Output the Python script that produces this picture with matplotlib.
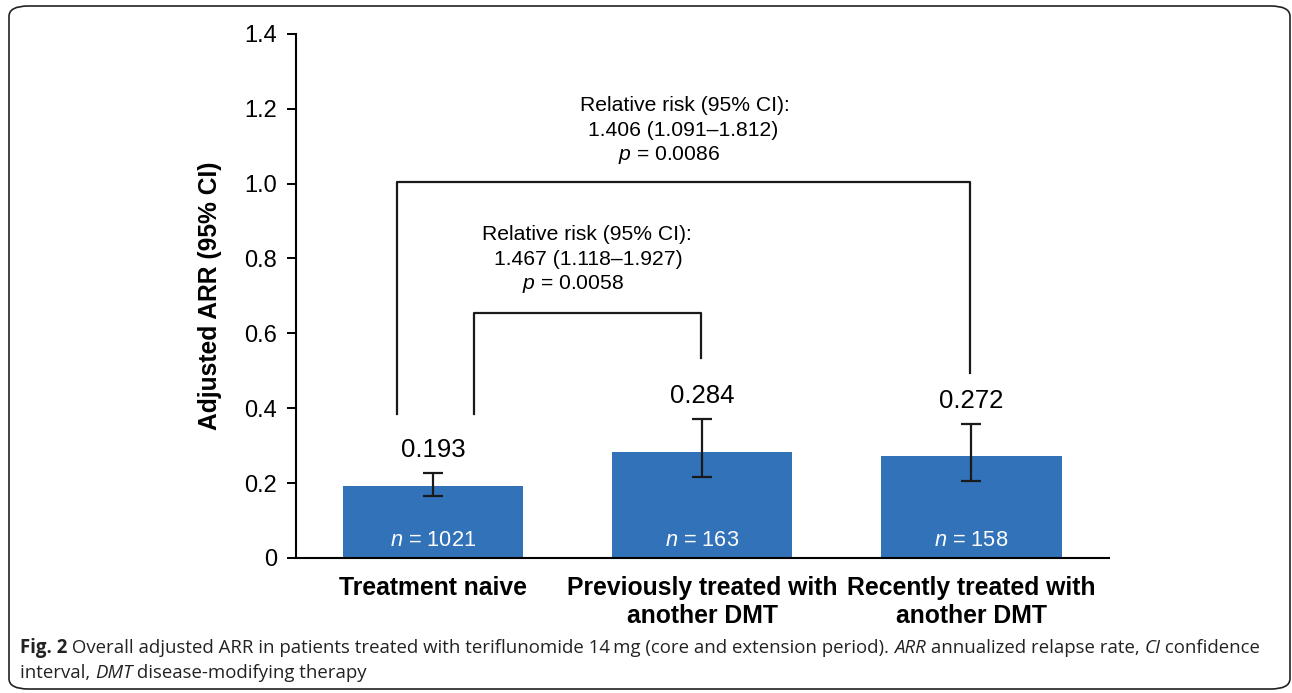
import matplotlib.pyplot as plt
from matplotlib.patches import FancyBboxPatch

plt.rcParams['font.family'] = ['Liberation Sans', 'DejaVu Sans']
plt.rcParams['mathtext.fontset'] = 'custom'
plt.rcParams['mathtext.rm'] = 'Liberation Sans'
plt.rcParams['mathtext.it'] = 'Liberation Sans:italic'
plt.rcParams['mathtext.bf'] = 'Liberation Sans:bold'

# data
groups = ['Treatment naive', 'Previously treated with\nanother DMT',
          'Recently treated with\nanother DMT']
arr = [0.193, 0.284, 0.272]
ci_low = [0.165, 0.216, 0.206]
ci_high = [0.227, 0.371, 0.358]
n_pat = [1021, 163, 158]
yticks = [0, 0.2, 0.4, 0.6, 0.8, 1.0, 1.2, 1.4]
ytick_labels = ['0', '0.2', '0.4', '0.6', '0.8', '1.0', '1.2', '1.4']

# comparison brackets: left x, right x, left foot, right foot, top
br_left = [-0.134, 0.152]
br_right = [1.996, 0.996]
br_foot_l = [0.385, 0.385]
br_foot_r = [0.494, 0.534]
br_top = [1.005, 0.655]
rr_text = [['Relative risk (95% CI):', '1.406 (1.091\u20131.812)', '$\\mathit{p}$ = 0.0086'],
           ['Relative risk (95% CI):', '1.467 (1.118\u20131.927)', '$\\mathit{p}$ = 0.0058']]
rr_x = [[0.937, 0.929, 0.877], [0.572, 0.576, 0.52]]
rr_y = [[1.210, 1.143, 1.077], [0.863, 0.796, 0.732]]

blue = '#3272b8'

fig = plt.figure(figsize=(12.92, 6.93), dpi=100)
ax = fig.add_axes([0.229, 0.195, 0.629, 0.756])

x = list(range(len(groups)))
err = [[a - l for a, l in zip(arr, ci_low)], [h - a for a, h in zip(arr, ci_high)]]
ax.bar(x, arr, width=0.67, color=blue, zorder=2)
ax.errorbar(x, arr, yerr=err, fmt='none', ecolor='#1a1a1a', elinewidth=1.6,
            capsize=7.5, capthick=1.6, zorder=3)

for i in x:
    ax.annotate('%.3f' % arr[i], (i, ci_high[i]), xytext=(0, 8),
                textcoords='offset points', ha='center', va='bottom', fontsize=18.5)
    ax.text(i, 0.032, '$\\mathit{n}$ = %d' % n_pat[i], color='white', ha='center',
            va='baseline', fontsize=15.7)

for k in range(len(br_left)):
    ax.plot([br_left[k], br_left[k], br_right[k], br_right[k]],
            [br_foot_l[k], br_top[k], br_top[k], br_foot_r[k]],
            color='#1a1a1a', lw=1.6, zorder=3)
    for s, tx, ty in zip(rr_text[k], rr_x[k], rr_y[k]):
        ax.text(tx, ty, s, ha='center', va='center', fontsize=15.2)

ax.set_xlim(-0.509, 2.509)
ax.set_ylim(0, 1.4)
ax.set_yticks(yticks)
ax.set_yticklabels(ytick_labels)
ax.set_xticks(x)
ax.set_xticklabels(groups, fontweight='bold', fontsize=17.8, linespacing=1.2)
ax.tick_params(axis='x', length=0, pad=13)
ax.tick_params(axis='y', length=6.5, width=1.4, labelsize=17, pad=7)
ax.spines['top'].set_visible(False)
ax.spines['right'].set_visible(False)
ax.spines['left'].set_linewidth(1.5)
ax.spines['bottom'].set_linewidth(1.5)
ax.set_ylabel('Adjusted ARR (95% CI)', fontweight='bold', fontsize=17.7, labelpad=16)

# rounded frame around figure and caption
frame = FancyBboxPatch((9 / 1292, 4 / 693), 1281 / 1292, 683 / 693,
                       boxstyle='round,pad=0,rounding_size=0.015',
                       transform=fig.transFigure, fill=False, ec='#222222', lw=1.2)
fig.patches.append(frame)

# caption with mixed styles
cap_font = ['Open Sans', 'DejaVu Sans']
lines = [
    [('Fig. 2', 'normal', 'bold'),
     (' Overall adjusted ARR in patients treated with teriflunomide 14\u2009mg (core and extension period). ', 'normal', 'normal'),
     ('ARR', 'italic', 'normal'), (' annualized relapse rate, ', 'normal', 'normal'),
     ('CI', 'italic', 'normal'), (' confidence', 'normal', 'normal')],
    [('interval, ', 'normal', 'normal'), ('DMT', 'italic', 'normal'),
     (' disease-modifying therapy', 'normal', 'normal')],
]
line_y = [1 - 648 / 693, 1 - 673 / 693]
renderer = fig.canvas.get_renderer()
for pieces, yy in zip(lines, line_y):
    xx = 20 / 1292
    for s, st, wt in pieces:
        t = fig.text(xx, yy, s, fontsize=13.4, style=st, fontweight=wt,
                     family=cap_font, va='center', ha='left', color='#222222')
        bb = t.get_window_extent(renderer)
        xx += bb.width / fig.bbox.width

fig.savefig('out.png', dpi=100)
